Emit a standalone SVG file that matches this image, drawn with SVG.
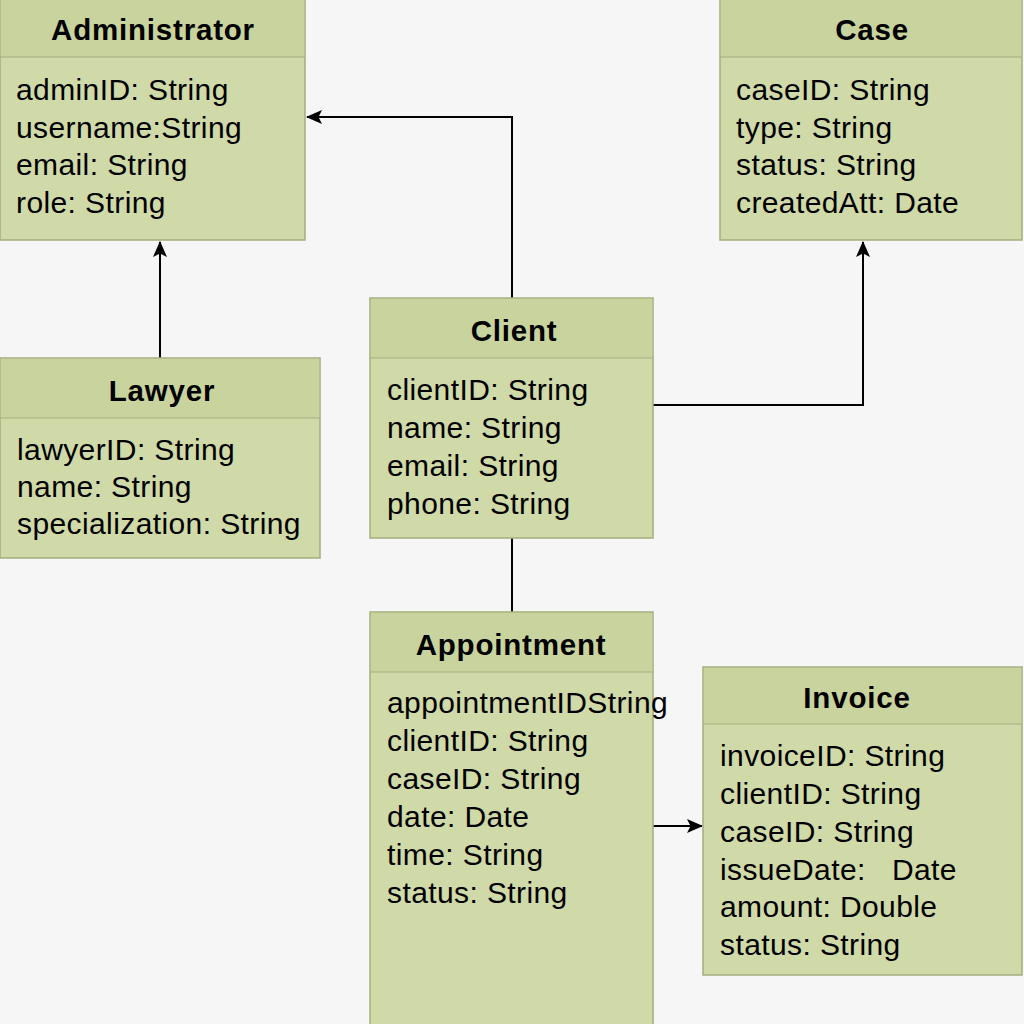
<svg xmlns="http://www.w3.org/2000/svg" width="1024" height="1024" viewBox="0 0 1024 1024">
<defs>
<style>
.bg{fill:#f6f6f6}
.box{fill:#d0d9a8;stroke:#a2ad7e;stroke-width:1.5}
.hdr{fill:#c9d39e}
.div{stroke:#a2ad7e;stroke-width:1.2}
.title{font-family:"Liberation Sans",Arial,sans-serif;font-weight:bold;font-size:29.5px;letter-spacing:0.8px;fill:#000;text-anchor:middle}
.attr{font-family:"Liberation Sans",Arial,sans-serif;font-size:30px;letter-spacing:0.4px;fill:#000;white-space:pre}
.conn{fill:none;stroke:#000;stroke-width:2}
</style>
<marker id="arr" viewBox="0 0 16 14" refX="15" refY="7" markerWidth="16" markerHeight="14" markerUnits="userSpaceOnUse" orient="auto">
<path d="M0,0 L16,7 L0,14 L3.5,7 Z" fill="#000"/>
</marker>
</defs>
<rect class="bg" x="0" y="0" width="1024" height="1024"/>

<g id="connectors">
<polyline class="conn" points="512,298 512,117 307,117" marker-end="url(#arr)"/>
<line class="conn" x1="160" y1="358" x2="160" y2="242" marker-end="url(#arr)"/>
<polyline class="conn" points="653,405 863,405 863,242" marker-end="url(#arr)"/>
<line class="conn" x1="512" y1="538" x2="512" y2="612"/>
<line class="conn" x1="653" y1="826" x2="702" y2="826" marker-end="url(#arr)"/>
</g>

<g id="Administrator">
<rect class="box" x="0" y="-2" width="305" height="242"/>
<rect class="hdr" x="0.8" y="-1" width="303.5" height="58"/>
<line class="div" x1="0" y1="57" x2="305" y2="57"/>
<text class="title" x="153" y="40">Administrator</text>
<text class="attr" x="16" y="100">adminID: String</text>
<text class="attr" x="16" y="138">username:String</text>
<text class="attr" x="16" y="175">email: String</text>
<text class="attr" x="16" y="213">role: String</text>
</g>

<g id="Case">
<rect class="box" x="720" y="-2" width="302" height="242"/>
<rect class="hdr" x="720.8" y="-1" width="300.5" height="58"/>
<line class="div" x1="720" y1="57" x2="1022" y2="57"/>
<text class="title" x="872" y="40">Case</text>
<text class="attr" x="736" y="100">caseID: String</text>
<text class="attr" x="736" y="138">type: String</text>
<text class="attr" x="736" y="175">status: String</text>
<text class="attr" x="736" y="213">createdAtt: Date</text>
</g>

<g id="Client">
<rect class="box" x="370" y="298" width="283" height="240"/>
<rect class="hdr" x="370.8" y="298.8" width="281.5" height="59"/>
<line class="div" x1="370" y1="358" x2="653" y2="358"/>
<text class="title" x="514" y="341">Client</text>
<text class="attr" x="387" y="400">clientID: String</text>
<text class="attr" x="387" y="438">name: String</text>
<text class="attr" x="387" y="476">email: String</text>
<text class="attr" x="387" y="514">phone: String</text>
</g>

<g id="Lawyer">
<rect class="box" x="0" y="358" width="320" height="200"/>
<rect class="hdr" x="0.8" y="358.8" width="318.5" height="59"/>
<line class="div" x1="0" y1="418" x2="320" y2="418"/>
<text class="title" x="162" y="401">Lawyer</text>
<text class="attr" x="17" y="460">lawyerID: String</text>
<text class="attr" x="17" y="497">name: String</text>
<text class="attr" x="17" y="534">specialization: String</text>
</g>

<g id="Appointment">
<rect class="box" x="370" y="612" width="283" height="420"/>
<rect class="hdr" x="370.8" y="612.8" width="281.5" height="59"/>
<line class="div" x1="370" y1="672" x2="653" y2="672"/>
<text class="title" x="511" y="655">Appointment</text>
<text class="attr" x="387" y="713">appointmentIDString</text>
<text class="attr" x="387" y="751">clientID: String</text>
<text class="attr" x="387" y="789">caseID: String</text>
<text class="attr" x="387" y="827">date: Date</text>
<text class="attr" x="387" y="865">time: String</text>
<text class="attr" x="387" y="903">status: String</text>
</g>

<g id="Invoice">
<rect class="box" x="703" y="667" width="319" height="308"/>
<rect class="hdr" x="703.8" y="667.8" width="317.5" height="56"/>
<line class="div" x1="703" y1="724" x2="1022" y2="724"/>
<text class="title" x="857" y="708">Invoice</text>
<text class="attr" x="720" y="766">invoiceID: String</text>
<text class="attr" x="720" y="804">clientID: String</text>
<text class="attr" x="720" y="842">caseID: String</text>
<text class="attr" x="720" y="880">issueDate:   Date</text>
<text class="attr" x="720" y="917">amount: Double</text>
<text class="attr" x="720" y="955">status: String</text>
</g>
</svg>
